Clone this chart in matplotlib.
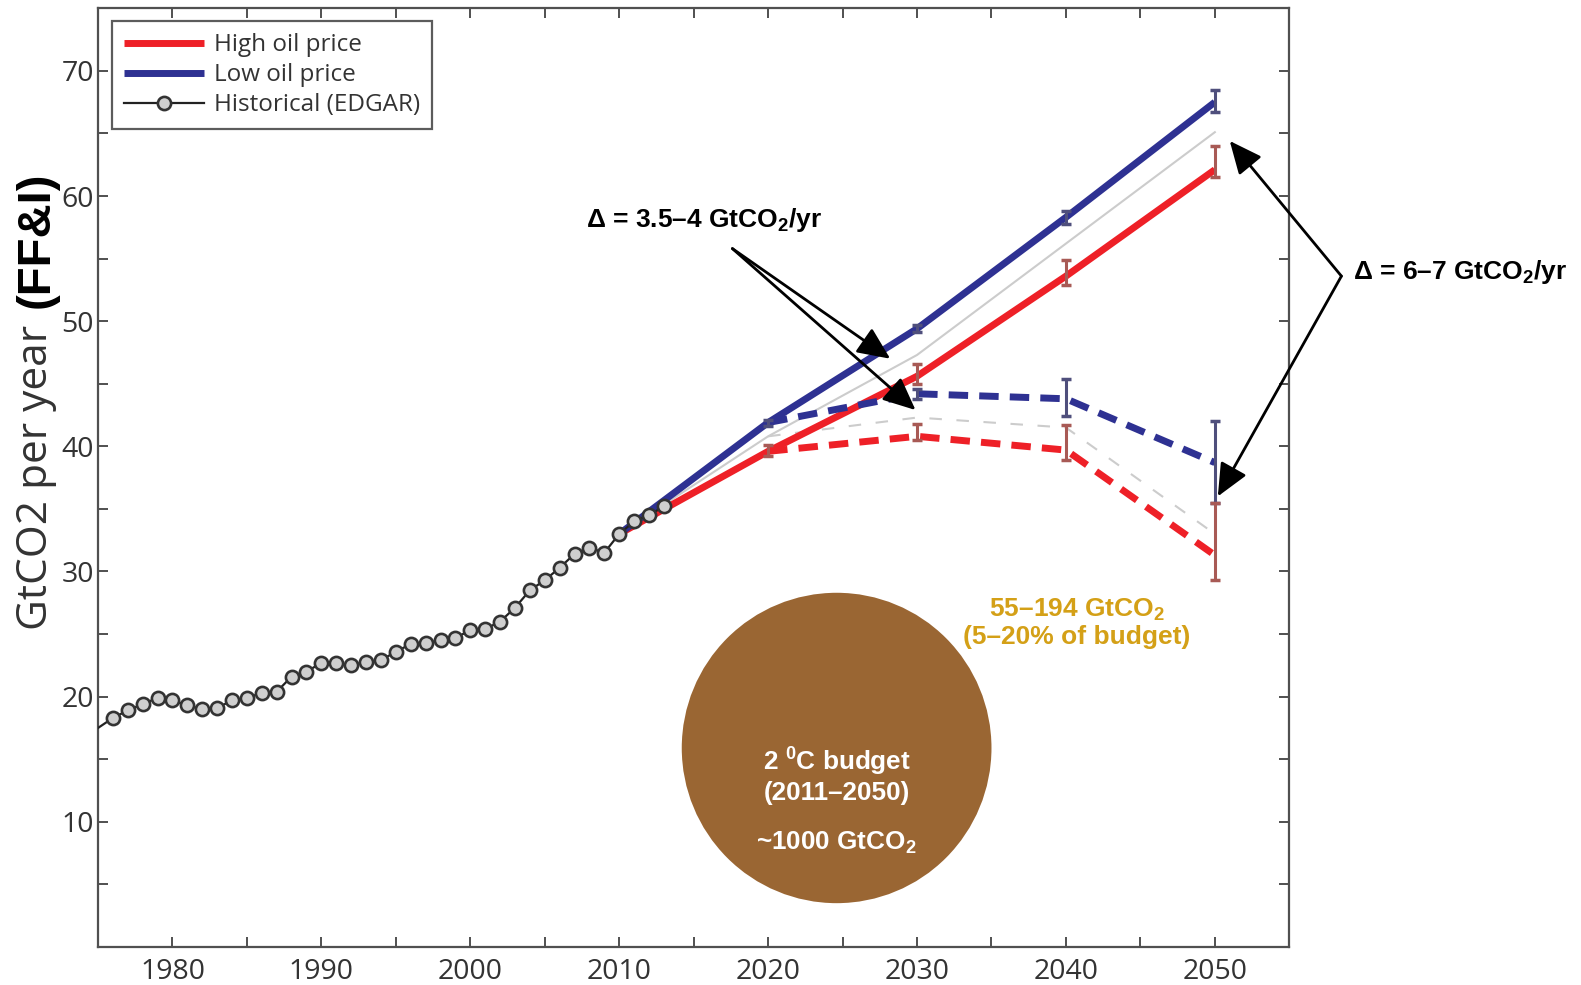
import matplotlib
matplotlib.use("Agg")
import numpy as np
import matplotlib.pyplot as plt
from matplotlib.patches import Ellipse
from matplotlib.ticker import MultipleLocator, FuncFormatter

plt.rcParams['mathtext.fontset'] = 'custom'
plt.rcParams['mathtext.rm'] = 'Liberation Sans'
plt.rcParams['mathtext.bf'] = 'Liberation Sans:bold'

# historical emissions (EDGAR), GtCO2/yr
hist_years = list(range(1975, 2014))
hist_vals = [17.5, 18.3, 18.9, 19.4, 19.9, 19.7, 19.3, 19.0, 19.1, 19.7,
             19.9, 20.3, 20.4, 21.6, 22.0, 22.7, 22.7, 22.5, 22.8, 22.9,
             23.6, 24.2, 24.3, 24.5, 24.7, 25.3, 25.4, 26.0, 27.1, 28.5,
             29.3, 30.3, 31.4, 31.9, 31.5, 33.0, 34.0, 34.5, 35.2]

# baseline projections (solid)
base_years = [2010, 2020, 2030, 2040, 2050]
high_base = [33.0, 39.6, 45.6, 53.6, 62.1]
low_base = [33.0, 41.9, 49.4, 58.3, 67.5]
mid_base = [33.0, 40.8, 47.3, 56.2, 65.1]

# policy projections (dashed)
pol_years = [2020, 2030, 2040, 2050]
high_pol = [39.6, 40.8, 39.7, 31.3]
low_pol = [41.9, 44.2, 43.8, 38.7]
mid_pol = [40.8, 42.3, 41.5, 33.0]

# ranges (low / high end of bars)
err_years = [2020, 2030, 2040, 2050]
low_base_lo = [41.6, 49.1, 57.8, 66.7]
low_base_hi = [42.1, 49.7, 58.8, 68.5]
high_base_lo = [39.2, 45.0, 52.9, 61.5]
high_base_hi = [40.1, 46.6, 54.9, 64.0]
pol_err_years = [2030, 2040, 2050]
low_pol_lo = [43.8, 42.4, 35.5]
low_pol_hi = [44.6, 45.4, 42.0]
high_pol_lo = [40.5, 38.9, 29.3]
high_pol_hi = [41.8, 41.7, 35.5]

RED = '#ee2027'
BLUE = '#2e3192'
RED_BAR = '#a85a55'
BLUE_BAR = '#4f4f7c'
GOLD = '#d4a017'
BROWN = '#9a6633'
AX = '#505050'
TXT = '#333333'

fig = plt.figure(figsize=(15.81, 9.85), dpi=100)
ax = fig.add_axes([0.0620, 0.0386, 0.7535, 0.953])

ax.plot(base_years, mid_base, color='#cccccc', lw=1.5, zorder=2)
ax.plot(pol_years, mid_pol, color='#cccccc', lw=1.5, dashes=(6, 7), zorder=2)

ax.plot(base_years, high_base, color=RED, lw=5, solid_capstyle='butt', zorder=3, label='High oil price')
ax.plot(base_years, low_base, color=BLUE, lw=5, solid_capstyle='butt', zorder=3, label='Low oil price')
ax.plot(pol_years, high_pol, color=RED, lw=5, dashes=(2.8, 1.6), zorder=3)
ax.plot(pol_years, low_pol, color=BLUE, lw=5, dashes=(2.8, 1.6), zorder=3)

ax.plot(hist_years, hist_vals, color='#222222', lw=1.6, marker='o', markersize=9.5,
        markerfacecolor='#cfcfcf', markeredgecolor='#333333', markeredgewidth=1.9,
        markevery=slice(1, None), zorder=4, label='Historical (EDGAR)')


def bars(x, center, lo, hi, color):
    c = np.array(center)
    yerr = [c - np.array(lo), np.array(hi) - c]
    ax.errorbar(x, c, yerr=yerr, fmt='none', ecolor=color, elinewidth=2.2,
                capsize=3.5, capthick=2.5, zorder=5)


bars(err_years, low_base[1:], low_base_lo, low_base_hi, BLUE_BAR)
bars(err_years, high_base[1:], high_base_lo, high_base_hi, RED_BAR)
bars(pol_err_years, low_pol[1:], low_pol_lo, low_pol_hi, BLUE_BAR)
bars(pol_err_years, high_pol[1:], high_pol_lo, high_pol_hi, RED_BAR)

# 2 degree budget circle
ax.add_patch(Ellipse((2024.6, 15.9), 20.8, 24.8, facecolor=BROWN, edgecolor='none', zorder=1))
ax.text(2024.6, 13.75, '2 $^{\\mathbf{0}}$C budget\n(2011\u20132050)', color='white',
        fontsize=18.8, fontweight='bold', family='Liberation Sans', ha='center', va='center',
        linespacing=1.2, zorder=6)
ax.text(2024.6, 8.3, '~1000 GtCO$_{\\mathbf{2}}$', color='white', fontsize=18.8,
        fontweight='bold', family='Liberation Sans', ha='center', va='center', zorder=6)
ax.text(2040.75, 25.9, '55\u2013194 GtCO$_{\\mathbf{2}}$\n(5\u201320% of budget)', color=GOLD,
        fontsize=19, fontweight='bold', family='Liberation Sans', ha='center', va='center',
        linespacing=1.15, zorder=6)

# delta annotations
arw = dict(arrowstyle='-|>,head_length=1.0,head_width=0.45', color='black', lw=2,
           shrinkA=0, shrinkB=0, mutation_scale=20)
ax.text(2007.8, 58.1, '\u0394 = 3.5\u20134 GtCO$_{\\mathbf{2}}$/yr', fontsize=19, fontweight='bold',
        family='Liberation Sans', ha='left', va='center')
ax.annotate('', xy=(2028.2, 47.0), xytext=(2017.6, 55.8), arrowprops=arw, zorder=7)
ax.annotate('', xy=(2029.9, 42.9), xytext=(2017.6, 55.8), arrowprops=arw, zorder=7)

ax.text(2059.3, 53.9, '\u0394 = 6\u20137 GtCO$_{\\mathbf{2}}$/yr', fontsize=19, fontweight='bold',
        family='Liberation Sans', ha='left', va='center', clip_on=False)
ax.annotate('', xy=(2051.0, 64.4), xytext=(2058.5, 53.6), arrowprops=arw,
            annotation_clip=False, zorder=7)
ax.annotate('', xy=(2050.2, 36.0), xytext=(2058.5, 53.6), arrowprops=arw,
            annotation_clip=False, zorder=7)

# axes styling
ax.set_xlim(1975, 2055)
ax.set_ylim(0, 75)
ax.xaxis.set_major_locator(MultipleLocator(10))
ax.xaxis.set_minor_locator(MultipleLocator(5))
ax.yaxis.set_major_locator(MultipleLocator(10))
ax.yaxis.set_minor_locator(MultipleLocator(5))
ax.yaxis.set_major_formatter(FuncFormatter(lambda v, p: '' if v == 0 else '%d' % v))
ax.tick_params(which='both', direction='in', length=7, width=1.4, color=AX,
               top=True, right=True, labelsize=20.5, labelcolor=TXT)
ax.tick_params(axis='x', pad=8)
ax.tick_params(axis='y', pad=3)
for lab in ax.get_xticklabels() + ax.get_yticklabels():
    lab.set_family('Open Sans')
for s in ax.spines.values():
    s.set_color(AX)
    s.set_linewidth(1.6)

leg = ax.legend(loc='upper left', bbox_to_anchor=(0.0118, 0.9865), borderaxespad=0,
                fancybox=False, edgecolor='#333333', handlelength=3.3, labelspacing=0.25,
                prop={'family': 'Open Sans', 'size': 17.5}, borderpad=0.5, handletextpad=0.4)
leg.get_frame().set_linewidth(1.6)
for t in leg.get_texts():
    t.set_color(TXT)

# y label: plain part + bold part
fig.text(47 / 1581, 1 - 630 / 985, 'GtCO2 per year', rotation=90, rotation_mode='anchor',
         ha='left', va='baseline', fontsize=30.5, family='Open Sans', color=TXT)
fig.text(49 / 1581, 1 - 308 / 985, '(FF&I)', rotation=90, rotation_mode='anchor',
         ha='left', va='baseline', fontsize=34, fontweight='bold', family='Liberation Sans',
         color='black')

fig.savefig('out.png', dpi=100)
